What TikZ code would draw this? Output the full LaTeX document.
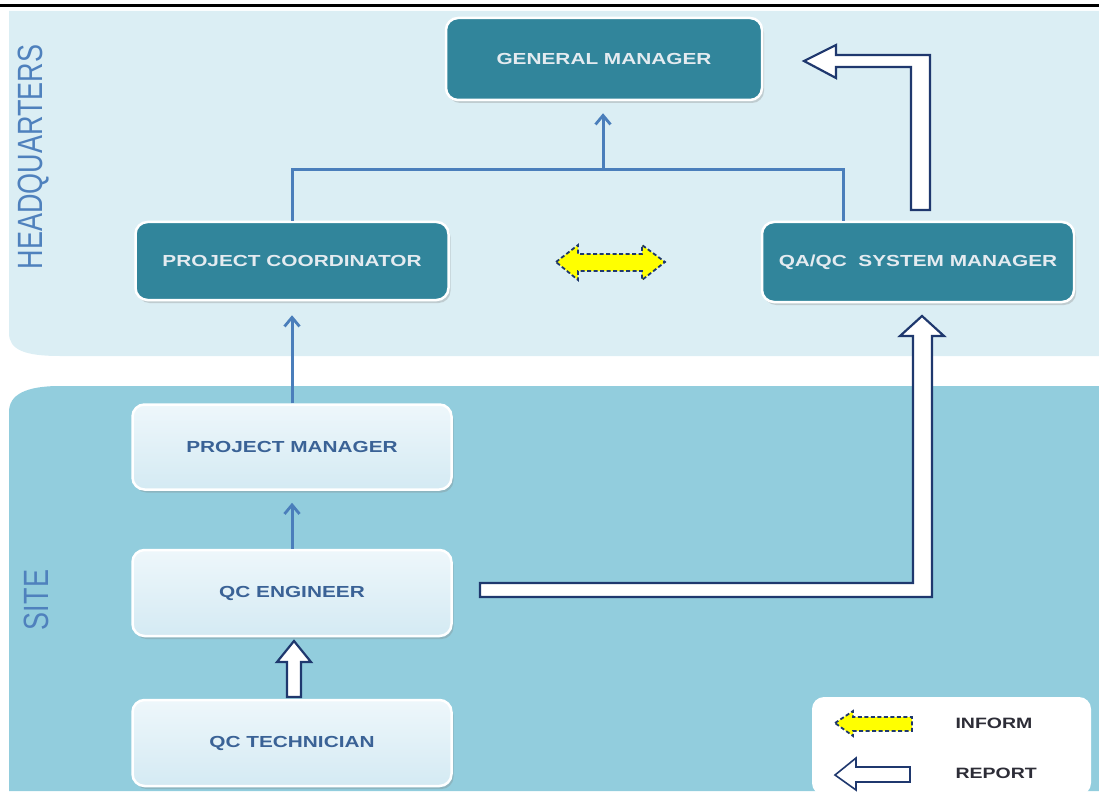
\documentclass[tikz,border=0pt]{standalone}
\usepackage{fontspec}
\setmainfont{Liberation Sans}
\usetikzlibrary{arrows.meta,shadows,calc}
\definecolor{hqbg}{RGB}{219,238,244}
\definecolor{sitebg}{RGB}{146,205,221}
\definecolor{darkbox}{RGB}{49,133,155}
\definecolor{lightboxtop}{RGB}{238,247,251}
\definecolor{lightboxbot}{RGB}{212,234,243}
\definecolor{conn}{RGB}{74,126,187}
\definecolor{navy}{RGB}{31,56,110}
\definecolor{lbltext}{RGB}{79,129,189}
\definecolor{darktext}{RGB}{228,235,240}
\definecolor{lighttext}{RGB}{58,98,150}
\definecolor{legtext}{RGB}{45,45,55}
\definecolor{arryellow}{RGB}{255,255,0}
\newcommand{\wide}[1]{\scalebox{1.3}[1]{#1}}
\begin{document}
\begin{tikzpicture}[x=1pt,y=-1pt,
  darknode/.style={draw=white, line width=2.5pt, fill=darkbox, rounded corners=12pt, inner sep=0pt,
    text=darktext, font=\fontsize{16}{16}\selectfont\bfseries,
    drop shadow={opacity=0.3,shadow xshift=2pt,shadow yshift=-3pt}},
  lightnode/.style={draw=white, line width=2.5pt, top color=lightboxtop, bottom color=lightboxbot,
    rounded corners=12pt, inner sep=0pt, text=lighttext, font=\fontsize{16}{16}\selectfont\bfseries,
    drop shadow={opacity=0.3,shadow xshift=2pt,shadow yshift=-3pt}},
  thinline/.style={draw=conn, line width=3pt},
  thinarrow/.style={draw=conn, line width=3pt, -{Straight Barb[length=9pt,width=15pt,line width=2.8pt]}},
  hollow/.style={draw=navy, line width=2.2pt, fill=white, line join=miter},
  inform/.style={draw=navy, line width=1.8pt, fill=arryellow, dash pattern=on 4pt off 2.5pt},
  sidelabel/.style={text=lbltext, font=\fontsize{27}{27}\selectfont, rotate=90},
  legendtext/.style={text=legtext, font=\fontsize{15}{15}\selectfont\bfseries, anchor=west}
]
\useasboundingbox (0,0) rectangle (1099,794);
% top rule
\fill[black] (0,4) rectangle (1099,7);
% panels
\fill[hqbg] (9,11) -- (1099,11) -- (1099,356) -- (60,356) .. controls (25,356) and (9,350) .. (9,333) -- cycle;
\fill[sitebg] (9,791) -- (9,412) .. controls (9,395) and (25,386) .. (60,386) -- (1099,386) -- (1099,791) -- cycle;
% side labels
\node[sidelabel] (hq) at (34,157) {\scalebox{1}[1.3]{HEADQUARTERS}};
\node[sidelabel] (site) at (36,600) {\scalebox{1}[1.3]{SITE}};
% nodes
\node[darknode, minimum width=316pt, minimum height=82pt] (gm) at (604,59) {\wide{GENERAL MANAGER}};
\node[darknode, minimum width=313pt, minimum height=78pt] (pc) at (292,261) {\wide{PROJECT COORDINATOR}};
\node[darknode, minimum width=312pt, minimum height=80pt] (qa) at (918,262) {\wide{QA/QC\ \ SYSTEM MANAGER}};
\node[lightnode, minimum width=319pt, minimum height=85pt] (pm) at (292,447) {\wide{PROJECT MANAGER}};
\node[lightnode, minimum width=319pt, minimum height=86pt] (qce) at (292,593) {\wide{QC ENGINEER}};
\node[lightnode, minimum width=319pt, minimum height=86pt] (qct) at (292,743) {\wide{QC TECHNICIAN}};
% thin connectors
\coordinate (j) at (603,170);
\coordinate (qaj) at (843,170);
\draw[thinline] (pc.north) |- (qaj) -- (qaj |- qa.north);
\draw[thinarrow, shorten >=12pt] (j) -- (j |- gm.south);
\draw[thinarrow, shorten >=14pt] (pm.north) -- (pc.south);
\draw[thinarrow, shorten >=12pt] (qce.north) -- (pm.south);
% hollow report arrows
\draw[hollow] (287,697) -- (287,662) -- (277,662) -- (294,641) -- (311,662) -- (301,662) -- (301,697) -- cycle;
\draw[hollow] (480,583) -- (913,583) -- (913,336) -- (900,336) -- (922,316) -- (944,336) -- (932,336) -- (932,597) -- (480,597) -- cycle;
\draw[hollow] (911,210) -- (911,67) -- (836,67) -- (836,78) -- (804,61) -- (836,45) -- (836,55) -- (930,55) -- (930,210) -- cycle;
% inform double arrow
\draw[inform] (556,262) -- (578,245) -- (578,254) -- (642,254) -- (642,245) -- (665,262) -- (642,280) -- (642,271) -- (578,271) -- (578,280) -- cycle;
% legend
\fill[white, rounded corners=12pt] (812,697) rectangle (1091,795);
\draw[inform] (835,723) -- (853,711) -- (853,717) -- (912,717) -- (912,731) -- (853,731) -- (853,736) -- cycle;
\draw[hollow, line width=1.6pt] (835,775) -- (856,758) -- (856,767) -- (910,767) -- (910,782) -- (856,782) -- (856,790) -- cycle;
\node[legendtext] (inf) at (952,723) {\wide{INFORM}};
\node[legendtext] (rep) at (952,773) {\wide{REPORT}};
\end{tikzpicture}
\end{document}
